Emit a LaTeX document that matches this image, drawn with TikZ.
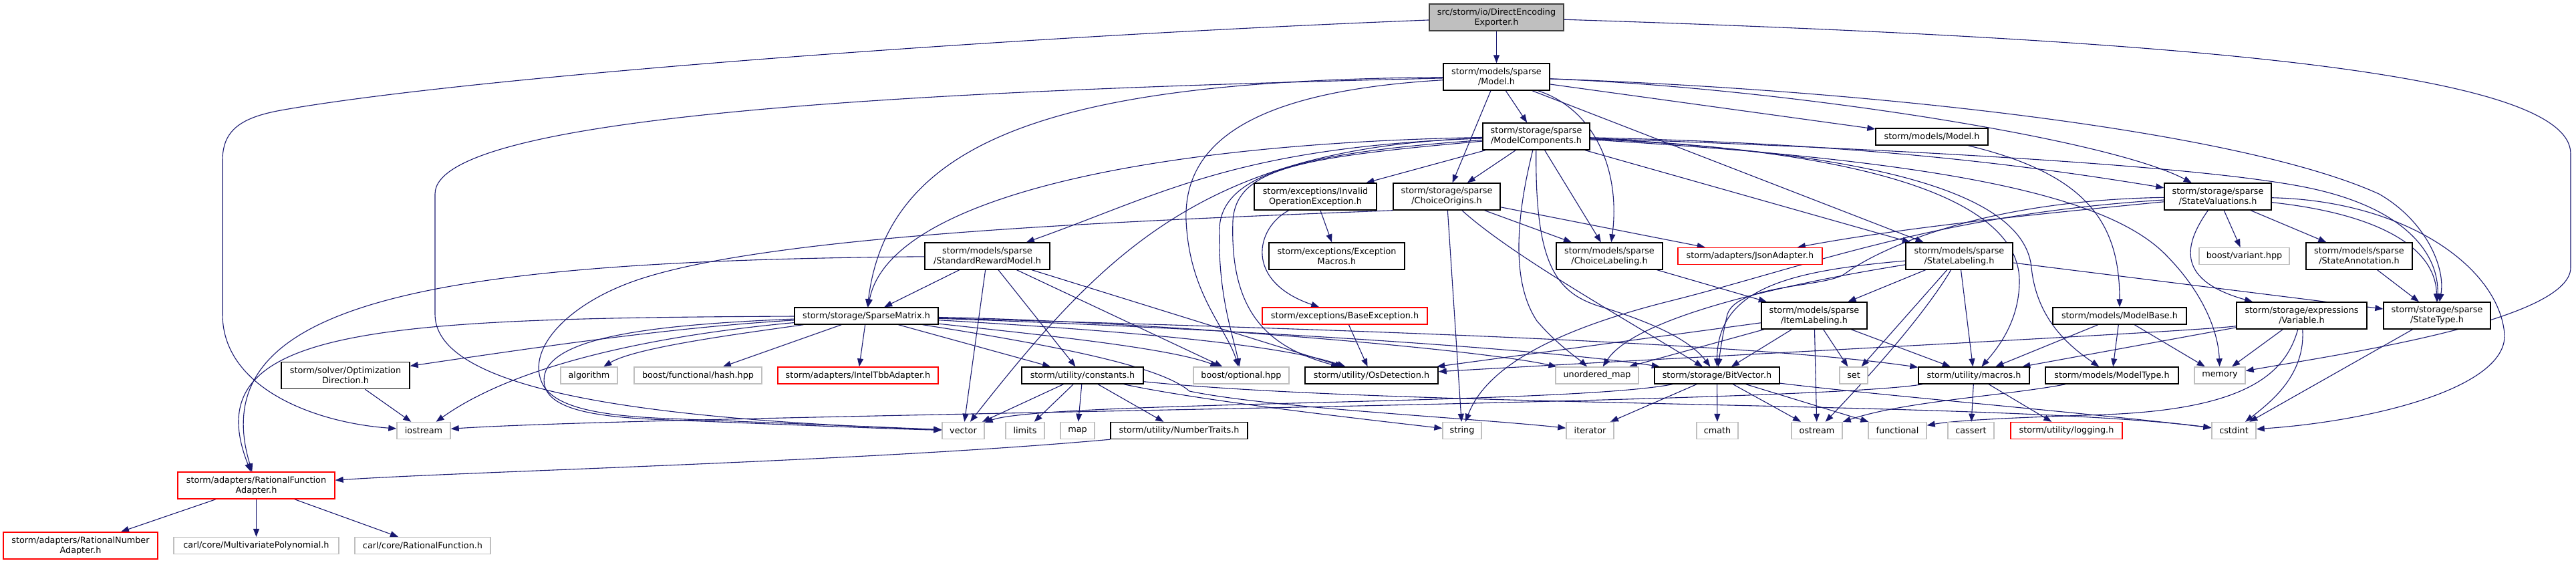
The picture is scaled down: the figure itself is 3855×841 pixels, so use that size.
\documentclass[tikz,border=0pt]{standalone}
\usepackage{fontspec}
\setmainfont{DejaVu Sans}
\usetikzlibrary{arrows.meta}
\definecolor{edgec}{HTML}{191970}
\definecolor{greyb}{HTML}{BFBFBF}
\definecolor{darkb}{HTML}{404040}
\definecolor{redb}{HTML}{FF0000}
\pgfdeclarelayer{bg}
\pgfsetlayers{bg,main}
\newcommand\nodefnt{\fontsize{12.8}{15}\selectfont}
\tikzset{
  nd/.style={draw=black, line width=1.4pt, fill=white, inner sep=0pt, align=center, font=\nodefnt, text=black},
  gn/.style={nd, draw=greyb},
  rn/.style={nd, draw=redb},
  bw/.style={minimum width=#1pt},
  h1/.style={minimum height=25pt},
  h2/.style={minimum height=40pt},
  e/.style={draw=edgec, line width=1.1pt, -{Triangle[length=12pt,width=9pt]}},
}
\begin{document}
\begin{tikzpicture}[x=1pt,y=-1pt]
\useasboundingbox (0,0) rectangle (3855,841);
% row 0-2
\node[nd,bw=201,h2,fill=greyb,draw=darkb] (exp) at (2239.5,26) {src/storm/io/DirectEncoding\\Exporter.h};
\node[nd,bw=159,h2] (model) at (2239.5,115) {storm/models/sparse\\/Model.h};
\node[nd,bw=160,h2] (mc) at (2299,204) {storm/storage/sparse\\/ModelComponents.h};
\node[nd,bw=168,h1] (mmodel) at (2891,204.5) {storm/models/Model.h};
% row 3
\node[nd,bw=183,h2] (invop) at (1968.5,294) {storm/exceptions/Invalid\\OperationException.h};
\node[nd,bw=160,h2] (corig) at (2165,294) {storm/storage/sparse\\/ChoiceOrigins.h};
\node[nd,bw=160,h2] (sval) at (3319,294) {storm/storage/sparse\\/StateValuations.h};
% row 4
\node[nd,bw=203,h2] (emac) at (2000.5,383) {storm/exceptions/Exception\\Macros.h};
\node[nd,bw=187,h2] (srm) at (1477.5,383) {storm/models/sparse\\/StandardRewardModel.h};
\node[nd,bw=159,h2] (clab) at (2408.5,383) {storm/models/sparse\\/ChoiceLabeling.h};
\node[rn,bw=216,h1] (json) at (2619,383) {storm/adapters/JsonAdapter.h};
\node[nd,bw=160,h2] (slab) at (2932,383) {storm/models/sparse\\/StateLabeling.h};
\node[gn,bw=135,h1] (variant) at (3358.5,383) {boost/variant.hpp};
\node[nd,bw=159,h2] (sann) at (3530.5,383) {storm/models/sparse\\/StateAnnotation.h};
% row 5
\node[nd,bw=215,h1] (spm) at (1296.5,472.5) {storm/storage/SparseMatrix.h};
\node[rn,bw=247,h1] (bexc) at (2012.5,472.5) {storm/exceptions/BaseException.h};
\node[nd,bw=158,h2] (ilab) at (2715,472) {storm/models/sparse\\/ItemLabeling.h};
\node[nd,bw=200,h1] (mbase) at (3172,472.5) {storm/models/ModelBase.h};
\node[nd,bw=195,h2] (var) at (3444.5,472) {storm/storage/expressions\\/Variable.h};
\node[nd,bw=160,h2] (stype) at (3647,472) {storm/storage/sparse\\/StateType.h};
% row 6
\node[nd,bw=192,h2] (optdir) at (517,561.5) {storm/solver/Optimization\\Direction.h};
\node[gn,bw=85,h1] (algo) at (881.5,561.5) {algorithm};
\node[gn,bw=191,h1] (hash) at (1044.5,561.5) {boost/functional/hash.hpp};
\node[rn,bw=240,h1] (tbb) at (1284,561.5) {storm/adapters/IntelTbbAdapter.h};
\node[nd,bw=182,h1] (const) at (1620,561.5) {storm/utility/constants.h};
\node[gn,bw=143,h1] (opt) at (1857.5,561.5) {boost/optional.hpp};
\node[nd,bw=199,h1] (osd) at (2052.5,561.5) {storm/utility/OsDetection.h};
\node[gn,bw=124,h1] (umap) at (2390,561.5) {unordered\_map};
\node[nd,bw=187,h1] (bv) at (2569.5,561.5) {storm/storage/BitVector.h};
\node[gn,bw=42,h1] (set) at (2774,561.5) {set};
\node[nd,bw=166,h1] (macros) at (2954,561.5) {storm/utility/macros.h};
\node[nd,bw=199,h1] (mtype) at (3160.5,561.5) {storm/models/ModelType.h};
\node[gn,bw=76,h1] (memory) at (3322,561.5) {memory};
% row 7
\node[gn,bw=80,h1] (iostream) at (634,644) {iostream};
\node[gn,bw=63,h1] (vector) at (1441.5,644) {vector};
\node[gn,bw=58,h1] (limits) at (1534,644) {limits};
\node[gn,bw=51,h1] (map) at (1612.5,644) {map};
\node[nd,bw=205,h1] (ntraits) at (1764.5,644) {storm/utility/NumberTraits.h};
\node[gn,bw=58,h1] (string) at (2188,644) {string};
\node[gn,bw=71,h1] (iterator) at (2379.5,644) {iterator};
\node[gn,bw=62,h1] (cmath) at (2570,644) {cmath};
\node[gn,bw=76,h1] (ostream) at (2719,644) {ostream};
\node[gn,bw=87,h1] (functional) at (2839.5,644) {functional};
\node[gn,bw=69,h1] (cassert) at (2949.5,644) {cassert};
\node[rn,bw=167,h1] (logging) at (3092.5,644) {storm/utility/logging.h};
\node[gn,bw=66,h1] (cstdint) at (3343,644) {cstdint};
% rows 8-9
\node[rn,bw=235,h2] (rfa) at (383.5,726) {storm/adapters/RationalFunction\\Adapter.h};
\node[rn,bw=231,h2] (rna) at (120.5,816) {storm/adapters/RationalNumber\\Adapter.h};
\node[gn,bw=247,h1] (mpoly) at (383.5,816) {carl/core/MultivariatePolynomial.h};
\node[gn,bw=203,h1] (rfun) at (632.5,816) {carl/core/RationalFunction.h};

\begin{pgfonlayer}{bg}
% exporter
\draw[e] (exp) -- (model);
\draw[e] (exp) .. controls (1500,55) and (700,115) .. (420,165) .. controls (360,176) and (333,195) .. (333,240) -- (333,470) .. controls (333,580) and (470,632) .. (iostream);
\draw[e] (exp) .. controls (3300,60) and (3847,110) .. (3847,230) -- (3847,400) .. controls (3847,480) and (3500,530) .. (memory);
% sparse/Model.h
\draw[e] (model) -- (mc);
\draw[e] (model) -- (corig);
\draw[e] (model) -- (slab);
\draw[e] (model) -- (mmodel);
\draw[e] (model) .. controls (2390,165) and (2425,260) .. (clab);
\draw[e] (model) .. controls (2650,130) and (3150,205) .. (sval);
\draw[e] (model) .. controls (2800,135) and (3350,195) .. (3560,290) .. controls (3630,330) and (3660,400) .. (stype);
\draw[e] (model) .. controls (1600,120) and (1330,200) .. (spm);
\draw[e] (model) .. controls (1400,135) and (651,170) .. (651,290) -- (651,470) .. controls (651,590) and (1000,628) .. (vector);
\draw[e] (model) .. controls (1900,135) and (1770,200) .. (1775,330) .. controls (1780,440) and (1835,490) .. (opt);
% ModelComponents
\draw[e] (mc) -- (invop);
\draw[e] (mc) -- (corig);
\draw[e] (mc) -- (clab);
\draw[e] (mc) -- (slab);
\draw[e] (mc) .. controls (1850,220) and (1740,290) .. (srm);
\draw[e] (mc) .. controls (1700,215) and (1330,300) .. (spm);
\draw[e] (mc) .. controls (2800,215) and (3050,250) .. (sval);
\draw[e] (mc) .. controls (2900,225) and (3300,250) .. (3450,280) .. controls (3600,310) and (3650,380) .. (stype);
\draw[e] (mc) .. controls (2900,240) and (3150,290) .. (3240,380) .. controls (3300,440) and (3320,500) .. (memory);
\draw[e] (mc) .. controls (2850,230) and (3030,300) .. (3040,400) .. controls (3048,480) and (3100,520) .. (mtype);
\draw[e] (mc) .. controls (2800,225) and (3022,300) .. (3022,420) .. controls (3022,480) and (2990,520) .. (macros);
\draw[e] (mc) .. controls (2297,400) and (2330,440) .. (2400,460) .. controls (2480,485) and (2530,510) .. (bv);
\draw[e] (mc) .. controls (2270,320) and (2260,420) .. (2300,480) .. controls (2330,515) and (2360,535) .. (umap);
\draw[e] (mc) .. controls (1950,228) and (1830,260) .. (1825,340) .. controls (1822,440) and (1845,500) .. (opt);
\draw[e] (mc) .. controls (1950,235) and (1850,250) .. (1845,330) .. controls (1840,470) and (1900,520) .. (osd);
\draw[e] (mc) .. controls (1800,220) and (1650,380) .. (vector);
% models/Model.h
\draw[e] (mmodel) .. controls (3120,260) and (3172,330) .. (mbase);
% exceptions
\draw[e] (invop) -- (emac);
\draw[e] (invop) .. controls (1880,340) and (1860,420) .. (bexc);
\draw[e] (bexc) -- (osd);
% ChoiceOrigins
\draw[e] (corig) -- (clab);
\draw[e] (corig) -- (json);
\draw[e] (corig) -- (string);
\draw[e] (corig) .. controls (2260,380) and (2420,470) .. (bv);
\draw[e] (corig.south west) .. controls (1700,330) and (1150,350) .. (950,420) .. controls (850,455) and (790,520) .. (810,570) .. controls (825,610) and (900,622) .. (1000,626) .. controls (1200,634) and (1350,640) .. (vector);
% StateValuations
\draw[e] (sval) -- (variant);
\draw[e] (sval) -- (sann);
\draw[e] (sval) .. controls (3265,370) and (3260,420) .. (var);
\draw[e] (sval) .. controls (3560,320) and (3645,370) .. (stype);
\draw[e] (sval) .. controls (3600,300) and (3740,400) .. (3748,500) .. controls (3752,580) and (3550,630) .. (cstdint);
\draw[e] (sval) .. controls (3050,320) and (2850,340) .. (json);
\draw[e] (sval) .. controls (2950,300) and (2800,380) .. (2760,410) .. controls (2730,430) and (2600,425) .. (2585,470) .. controls (2578,500) and (2575,520) .. (bv);
\draw[e] (sval) .. controls (2900,320) and (2700,400) .. (2500,450) .. controls (2300,500) and (2220,560) .. (string);
% StateLabeling
\draw[e] (slab) -- (ilab);
\draw[e] (slab) -- (set);
\draw[e] (slab) .. controls (2880,470) and (2800,560) .. (ostream);
\draw[e] (slab) -- (macros);
\draw[e] (slab) .. controls (2680,405) and (2570,430) .. (bv);
\draw[e] (slab) .. controls (2700,420) and (2450,470) .. (umap);
\draw[e] (slab) -- (stype);
% ItemLabeling, ChoiceLabeling
\draw[e] (clab) -- (ilab);
\draw[e] (ilab) -- (bv);
\draw[e] (ilab) -- (set);
\draw[e] (ilab) -- (ostream);
\draw[e] (ilab) -- (macros);
\draw[e] (ilab) -- (umap);
\draw[e] (ilab) -- (osd);
% StandardRewardModel
\draw[e] (srm) -- (spm);
\draw[e] (srm) -- (vector);
\draw[e] (srm) -- (const);
\draw[e] (srm) -- (opt);
\draw[e] (srm) -- (osd);
\draw[e] (srm) .. controls (650,390) and (300,450) .. (rfa);
% SparseMatrix
\draw[e] (spm) -- (tbb);
\draw[e] (spm) -- (hash);
\draw[e] (spm) -- (const);
\draw[e] (spm) .. controls (1100,500) and (950,520) .. (algo);
\draw[e] (spm) .. controls (1000,490) and (800,520) .. (optdir);
\draw[e] (spm) .. controls (1000,500) and (780,540) .. (iostream);
\draw[e] (spm) .. controls (560,476) and (290,490) .. (rfa);
\draw[e] (spm) .. controls (1000,485) and (830,500) .. (815,560) .. controls (805,610) and (880,624) .. (1000,628) .. controls (1200,636) and (1350,642) .. (vector);
\draw[e] (spm) .. controls (1550,500) and (1750,520) .. (opt);
\draw[e] (spm) .. controls (1600,490) and (1900,510) .. (osd);
\draw[e] (spm) .. controls (1700,480) and (2200,520) .. (umap);
\draw[e] (spm) .. controls (1800,490) and (2300,520) .. (bv);
\draw[e] (spm) .. controls (1900,490) and (2600,510) .. (macros);
\draw[e] (spm) .. controls (1600,520) and (1740,550) .. (1780,585) .. controls (1900,610) and (2200,625) .. (iterator);
% constants, NumberTraits
\draw[e] (const) -- (vector);
\draw[e] (const) -- (limits);
\draw[e] (const) -- (map);
\draw[e] (const) -- (ntraits);
\draw[e] (const) .. controls (1800,600) and (2050,628) .. (string);
\draw[e] (const) .. controls (2100,610) and (3000,600) .. (cstdint);
\draw[e] (ntraits.south west) .. controls (1300,690) and (700,705) .. (rfa);
% small ones
\draw[e] (optdir) -- (iostream);
\draw[e] (rfa) -- (rna);
\draw[e] (rfa) -- (mpoly);
\draw[e] (rfa) -- (rfun);
% BitVector
\draw[e] (bv) -- (iterator);
\draw[e] (bv) -- (cmath);
\draw[e] (bv) -- (ostream);
\draw[e] (bv) -- (functional);
\draw[e] (bv) .. controls (2800,590) and (3150,620) .. (cstdint);
\draw[e] (bv) .. controls (2350,605) and (1560,600) .. (vector);
% macros
\draw[e] (macros) -- (cassert);
\draw[e] (macros) -- (logging);
\draw[e] (macros) .. controls (2700,605) and (1000,620) .. (iostream);
% ModelBase, Variable, StateType, ModelType
\draw[e] (mbase) -- (macros);
\draw[e] (mbase) -- (mtype);
\draw[e] (mbase) -- (memory);
\draw[e] (var) -- (macros);
\draw[e] (var) .. controls (3300,495) and (2600,530) .. (osd);
\draw[e] (var) -- (memory);
\draw[e] (var) .. controls (3450,560) and (3400,600) .. (cstdint);
\draw[e] (var) .. controls (3420,560) and (3360,612) .. (3150,620) .. controls (3030,624) and (2930,628) .. (functional);
\draw[e] (stype) -- (cstdint);
\draw[e] (sann) -- (stype);
\draw[e] (mtype) .. controls (3000,592) and (2850,600) .. (ostream);
\end{pgfonlayer}
\end{tikzpicture}
\end{document}
